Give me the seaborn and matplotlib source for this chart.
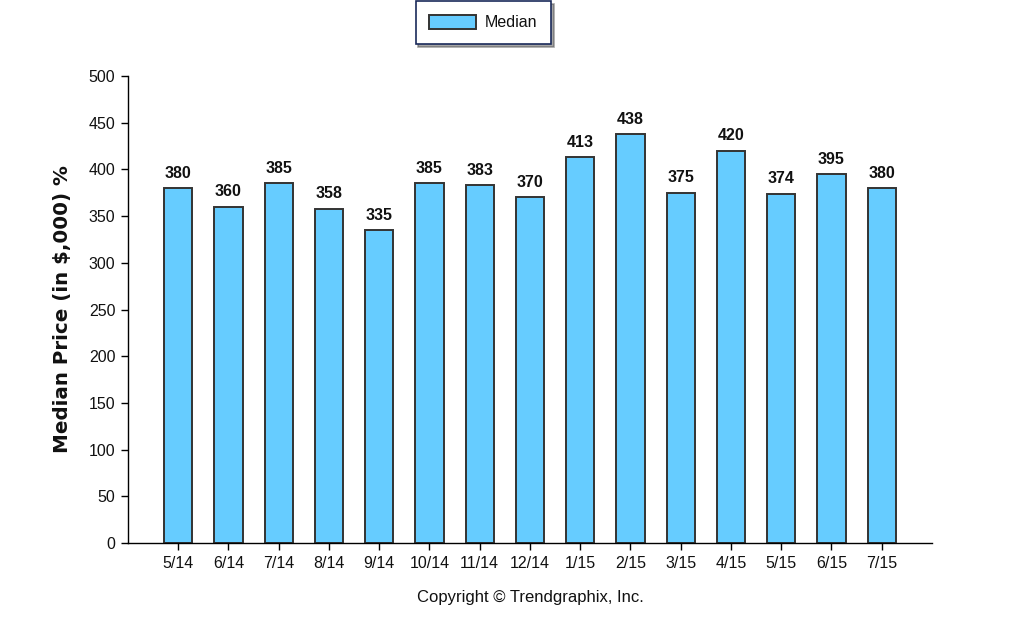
import matplotlib
matplotlib.use("Agg")
import matplotlib.pyplot as plt
import seaborn as sns
import pandas as pd

months = ["5/14", "6/14", "7/14", "8/14", "9/14", "10/14", "11/14", "12/14",
          "1/15", "2/15", "3/15", "4/15", "5/15", "6/15", "7/15"]
median = [380, 360, 385, 358, 335, 385, 383, 370, 413, 438, 375, 420, 374, 395, 380]

df = pd.DataFrame({"Month": months, "Median": median})

sns.set_theme(style="white")
plt.rcParams["font.family"] = ["Liberation Sans", "DejaVu Sans"]
plt.rcParams["text.color"] = "#111111"
plt.rcParams["xtick.color"] = "#111111"
plt.rcParams["ytick.color"] = "#111111"

fig = plt.figure(figsize=(10.22, 6.34), dpi=100)
ax = fig.add_axes([0.1252, 0.1435, 0.7867, 0.7365])

sns.barplot(data=df, x="Month", y="Median", color="#66CCFF", saturation=1,
            width=0.56, edgecolor="#333333", linewidth=1.4, ax=ax, label="Median")

for i, v in enumerate(median):
    ax.text(i, v + 8, f"{v}", ha="center", va="bottom", fontsize=11.5,
            fontweight="bold", color="#111111")

ax.set_xlim(-1, 15)
ax.set_ylim(0, 500)
ax.set_yticks(range(0, 501, 50))
ax.set_xlabel("")
ax.set_ylabel("Median Price (in $,000) %", fontsize=14.3, fontweight="bold",
              labelpad=12, family="DejaVu Sans", color="#111111")
ax.tick_params(axis="both", which="both", direction="out", length=5, width=1,
               color="black", labelsize=11.5, left=True, bottom=True, pad=4)
for s in ["top", "right"]:
    ax.spines[s].set_visible(False)
for s in ["left", "bottom"]:
    ax.spines[s].set_color("black")
    ax.spines[s].set_linewidth(1)

leg = ax.legend(loc="center", bbox_to_anchor=(0.473, 0.9645), bbox_transform=fig.transFigure,
                frameon=True, fancybox=False, shadow=True, fontsize=11.5,
                handlelength=2.9, handleheight=1.0, borderpad=0.85, handletextpad=0.6,
                borderaxespad=0)
leg.get_frame().set_edgecolor("#1a2a5a")
leg.get_frame().set_linewidth(1.2)

fig.text(0.519, 0.058, "Copyright \u00a9 Trendgraphix, Inc.", ha="center", va="center", fontsize=12)

fig.savefig("out.png", dpi=100)
